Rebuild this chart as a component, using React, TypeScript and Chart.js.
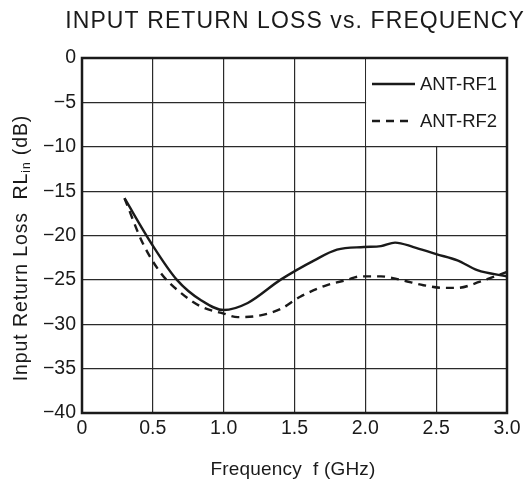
import React, { useEffect, useRef } from "react";
import { Chart, registerables } from "chart.js";

Chart.register(...registerables);

const TITLE = "INPUT RETURN LOSS vs. FREQUENCY";
const X_TITLE = "Frequency  f (GHz)";
const Y_TITLE_MAIN = "Input Return Loss  RL";
const Y_TITLE_SUB = "in";
const Y_TITLE_END = " (dB)";

const X_TICK_LABELS = ["0", "0.5", "1.0", "1.5", "2.0", "2.5", "3.0"];
const Y_TICK_LABELS = ["\u221240", "\u221235", "\u221230", "\u221225", "\u221220", "\u221215", "\u221210", "\u22125", "0"];

const SERIES_NAMES = ["ANT-RF1", "ANT-RF2"];

const FREQ_RF1 = [0.30, 0.49, 0.67, 0.84, 1.00, 1.17, 1.40, 1.64, 1.80, 1.99, 2.11, 2.21, 2.34, 2.50, 2.65, 2.79, 3.00];
const RL_RF1 = [-15.8, -20.9, -25.0, -27.3, -28.4, -27.6, -25.0, -22.8, -21.6, -21.3, -21.2, -20.8, -21.3, -22.1, -22.8, -23.9, -24.6];

const FREQ_RF2 = [0.30, 0.43, 0.56, 0.70, 0.84, 1.00, 1.10, 1.26, 1.40, 1.54, 1.71, 1.87, 1.97, 2.11, 2.25, 2.41, 2.55, 2.65, 2.81, 3.00];
const RL_RF2 = [-15.8, -20.9, -24.3, -26.5, -28.0, -28.8, -29.2, -29.0, -28.3, -26.9, -25.7, -25.0, -24.6, -24.6, -25.0, -25.6, -25.9, -25.9, -25.2, -24.1];

const FONT = "'Liberation Sans', Arial, Helvetica, sans-serif";
const INK = "#1a1a1a";

export default function App() {
  const ref = useRef<HTMLCanvasElement | null>(null);

  useEffect(() => {
    const canvas = ref.current;
    if (!canvas) return;

    const decor = {
      id: "decor",
      beforeDatasetsDraw(chart: any) {
        const { ctx, chartArea: a, scales } = chart;
        const x2 = scales.x.getPixelForValue(2.0);
        const y10 = scales.y.getPixelForValue(-10);
        ctx.save();
        ctx.fillStyle = "#ffffff";
        ctx.fillRect(x2 + 0.8, a.top, a.right - x2 - 0.8, y10 - a.top - 0.8);
        ctx.strokeStyle = INK;
        ctx.lineWidth = 2.5;
        ctx.strokeRect(a.left, a.top, a.right - a.left, a.bottom - a.top);
        ctx.restore();
      },
      afterDatasetsDraw(chart: any) {
        const { ctx } = chart;
        ctx.save();
        const ds = chart.data.datasets;
        const rows = [84, 121];
        ds.forEach((d: any, i: number) => {
          const y = rows[i];
          ctx.strokeStyle = INK;
          ctx.lineWidth = 2.4;
          ctx.setLineDash(d.borderDash || []);
          ctx.beginPath();
          ctx.moveTo(372, y);
          ctx.lineTo(d.borderDash ? 412 : 415, y);
          ctx.stroke();
          ctx.setLineDash([]);
          ctx.fillStyle = INK;
          ctx.font = `18.5px ${FONT}`;
          ctx.textAlign = "left";
          ctx.textBaseline = "middle";
          ctx.fillText(d.label, 420, y + 0.5);
        });
        ctx.restore();
      },
      afterDraw(chart: any) {
        const { ctx } = chart;
        ctx.save();
        ctx.fillStyle = INK;
        // title
        ctx.font = `23px ${FONT}`;
        (ctx as any).letterSpacing = "1.1px";
        ctx.textAlign = "center";
        ctx.textBaseline = "alphabetic";
        ctx.fillText(TITLE, 295, 28);
        // x title
        ctx.font = `19px ${FONT}`;
        (ctx as any).letterSpacing = "0.2px";
        ctx.fillText(X_TITLE, 293, 475);
        // y title with subscript
        (ctx as any).letterSpacing = "0.9px";
        ctx.translate(27, 248);
        ctx.rotate(-Math.PI / 2);
        ctx.textAlign = "left";
        const big = `19.5px ${FONT}`;
        const small = `12px ${FONT}`;
        ctx.font = big;
        const w1 = ctx.measureText(Y_TITLE_MAIN).width;
        const w3 = ctx.measureText(Y_TITLE_END).width;
        ctx.font = small;
        const w2 = ctx.measureText(Y_TITLE_SUB).width;
        let x0 = -(w1 + w2 + w3) / 2;
        ctx.font = big;
        ctx.fillText(Y_TITLE_MAIN, x0, 0);
        x0 += w1;
        ctx.font = small;
        ctx.fillText(Y_TITLE_SUB, x0, 3);
        x0 += w2;
        ctx.font = big;
        ctx.fillText(Y_TITLE_END, x0, 0);
        ctx.restore();
      },
    };

    const chart = new Chart(canvas, {
      type: "line",
      data: {
        datasets: [
          {
            label: SERIES_NAMES[0],
            data: FREQ_RF1.map((f, i) => ({ x: f, y: RL_RF1[i] })),
            borderColor: INK,
            borderWidth: 2.4,
            pointRadius: 0,
            cubicInterpolationMode: "monotone",
            fill: false,
          },
          {
            label: SERIES_NAMES[1],
            data: FREQ_RF2.map((f, i) => ({ x: f, y: RL_RF2[i] })),
            borderColor: INK,
            borderWidth: 2.4,
            borderDash: [8, 6],
            pointRadius: 0,
            cubicInterpolationMode: "monotone",
            fill: false,
          },
        ],
      },
      options: {
        responsive: false,
        animation: false,
        events: [],
        layout: { padding: { left: 0, right: 21, top: 58, bottom: 0 } },
        plugins: {
          legend: { display: false },
          title: { display: false },
          tooltip: { enabled: false },
        },
        scales: {
          x: {
            type: "linear",
            min: 0,
            max: 3,
            afterFit: (s: any) => {
              s.height = 67;
            },
            afterBuildTicks: (s: any) => {
              s.ticks = X_TICK_LABELS.map((_, i) => ({ value: i * 0.5 }));
            },
            ticks: {
              padding: 4,
              maxRotation: 0,
              autoSkip: false,
              color: INK,
              font: { family: FONT, size: 19.5 },
              callback: (_v: any, i: number) => X_TICK_LABELS[i],
            },
            grid: { color: "#2a2a2a", lineWidth: 1.2, drawTicks: false },
            border: { display: false },
          },
          y: {
            type: "linear",
            min: -40,
            max: 0,
            afterFit: (s: any) => {
              s.width = 82;
            },
            afterBuildTicks: (s: any) => {
              s.ticks = Y_TICK_LABELS.map((_, i) => ({ value: -40 + i * 5 }));
            },
            ticks: {
              padding: 6,
              autoSkip: false,
              color: INK,
              font: { family: FONT, size: 19.5 },
              callback: (_v: any, i: number) => Y_TICK_LABELS[i],
            },
            grid: { color: "#2a2a2a", lineWidth: 1.2, drawTicks: false },
            border: { display: false },
          },
        },
      },
      plugins: [decor],
    } as any);

    return () => chart.destroy();
  }, []);

  return (
    <div style={{ position: "absolute", left: 0, top: 0, width: 528, height: 480, background: "#fff" }}>
      <canvas ref={ref} width={528} height={480} style={{ display: "block" }} />
    </div>
  );
}
